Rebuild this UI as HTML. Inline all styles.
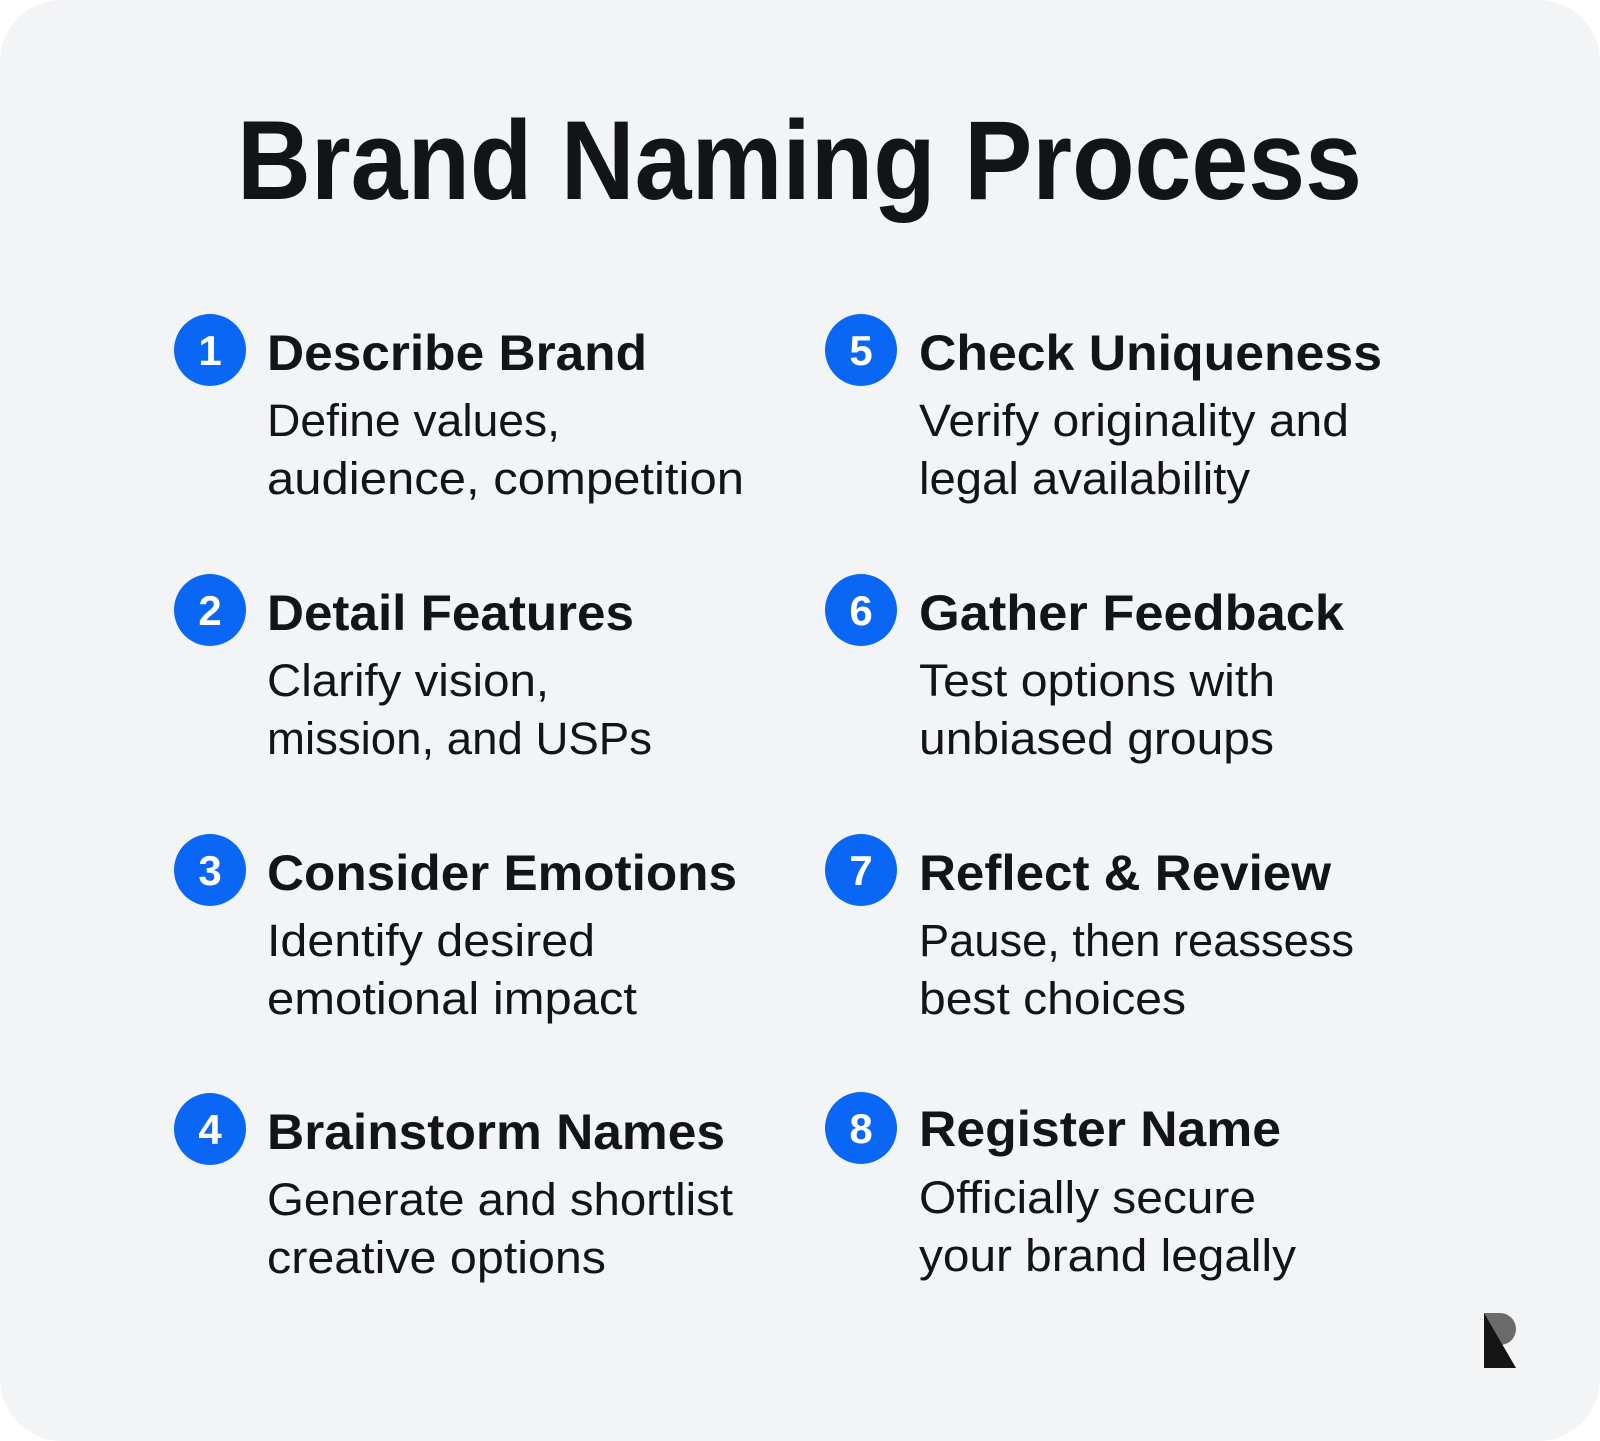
<!DOCTYPE html>
<html><head><meta charset="utf-8"><style>
html,body{margin:0;padding:0;background:#fff;}
svg{display:block;}
text{font-family:"Liberation Sans",sans-serif;fill:#121416;}
.h{font-weight:bold;font-size:50px;}
.d{font-size:45px;}
.n{font-weight:bold;font-size:42px;fill:#fff;}
</style></head><body>
<svg width="1600" height="1441" viewBox="0 0 1600 1441" xmlns="http://www.w3.org/2000/svg">
<rect x="0" y="0" width="1600" height="1441" rx="62" fill="#f3f4f6"/>
<text x="237" y="199" font-size="112" font-weight="bold" textLength="1125" lengthAdjust="spacingAndGlyphs">Brand Naming Process</text>

<g>
<circle cx="210" cy="350" r="36" fill="#0a66f5"/><text class="n" x="210" y="365" text-anchor="middle">1</text>
<text class="h" x="267" y="370" textLength="380" lengthAdjust="spacingAndGlyphs">Describe Brand</text>
<text class="d" x="267" y="436" textLength="293" lengthAdjust="spacingAndGlyphs">Define values,</text>
<text class="d" x="267" y="494" textLength="477" lengthAdjust="spacingAndGlyphs">audience, competition</text>

<circle cx="210" cy="610" r="36" fill="#0a66f5"/><text class="n" x="210" y="625" text-anchor="middle">2</text>
<text class="h" x="267" y="630" textLength="367" lengthAdjust="spacingAndGlyphs">Detail Features</text>
<text class="d" x="267" y="696" textLength="282" lengthAdjust="spacingAndGlyphs">Clarify vision,</text>
<text class="d" x="267" y="754" textLength="385" lengthAdjust="spacingAndGlyphs">mission, and USPs</text>

<circle cx="210" cy="870" r="36" fill="#0a66f5"/><text class="n" x="210" y="885" text-anchor="middle">3</text>
<text class="h" x="267" y="890" textLength="470" lengthAdjust="spacingAndGlyphs">Consider Emotions</text>
<text class="d" x="267" y="956" textLength="328" lengthAdjust="spacingAndGlyphs">Identify desired</text>
<text class="d" x="267" y="1014" textLength="370" lengthAdjust="spacingAndGlyphs">emotional impact</text>

<circle cx="210" cy="1129" r="36" fill="#0a66f5"/><text class="n" x="210" y="1144" text-anchor="middle">4</text>
<text class="h" x="267" y="1149" textLength="458" lengthAdjust="spacingAndGlyphs">Brainstorm Names</text>
<text class="d" x="267" y="1215" textLength="466" lengthAdjust="spacingAndGlyphs">Generate and shortlist</text>
<text class="d" x="267" y="1273" textLength="339" lengthAdjust="spacingAndGlyphs">creative options</text>
</g>

<g>
<circle cx="861" cy="350" r="36" fill="#0a66f5"/><text class="n" x="861" y="365" text-anchor="middle">5</text>
<text class="h" x="919" y="370" textLength="463" lengthAdjust="spacingAndGlyphs">Check Uniqueness</text>
<text class="d" x="919" y="436" textLength="430" lengthAdjust="spacingAndGlyphs">Verify originality and</text>
<text class="d" x="919" y="494" textLength="331" lengthAdjust="spacingAndGlyphs">legal availability</text>

<circle cx="861" cy="610" r="36" fill="#0a66f5"/><text class="n" x="861" y="625" text-anchor="middle">6</text>
<text class="h" x="919" y="630" textLength="425" lengthAdjust="spacingAndGlyphs">Gather Feedback</text>
<text class="d" x="919" y="696" textLength="356" lengthAdjust="spacingAndGlyphs">Test options with</text>
<text class="d" x="919" y="754" textLength="355" lengthAdjust="spacingAndGlyphs">unbiased groups</text>

<circle cx="861" cy="870" r="36" fill="#0a66f5"/><text class="n" x="861" y="885" text-anchor="middle">7</text>
<text class="h" x="919" y="890" textLength="412" lengthAdjust="spacingAndGlyphs">Reflect &amp; Review</text>
<text class="d" x="919" y="956" textLength="435" lengthAdjust="spacingAndGlyphs">Pause, then reassess</text>
<text class="d" x="919" y="1014" textLength="267" lengthAdjust="spacingAndGlyphs">best choices</text>

<circle cx="861" cy="1128" r="36" fill="#0a66f5"/><text class="n" x="861" y="1143" text-anchor="middle">8</text>
<text class="h" x="919" y="1146" textLength="362" lengthAdjust="spacingAndGlyphs">Register Name</text>
<text class="d" x="919" y="1213" textLength="337" lengthAdjust="spacingAndGlyphs">Officially secure</text>
<text class="d" x="919" y="1271" textLength="377" lengthAdjust="spacingAndGlyphs">your brand legally</text>
</g>

<path d="M1484 1313 H1500 A16 16 0 0 1 1500 1345 H1484 Z" fill="#6b6b6b"/>
<path d="M1484 1313 L1516 1368 H1484 Z" fill="#151515"/>
</svg>
</body></html>
